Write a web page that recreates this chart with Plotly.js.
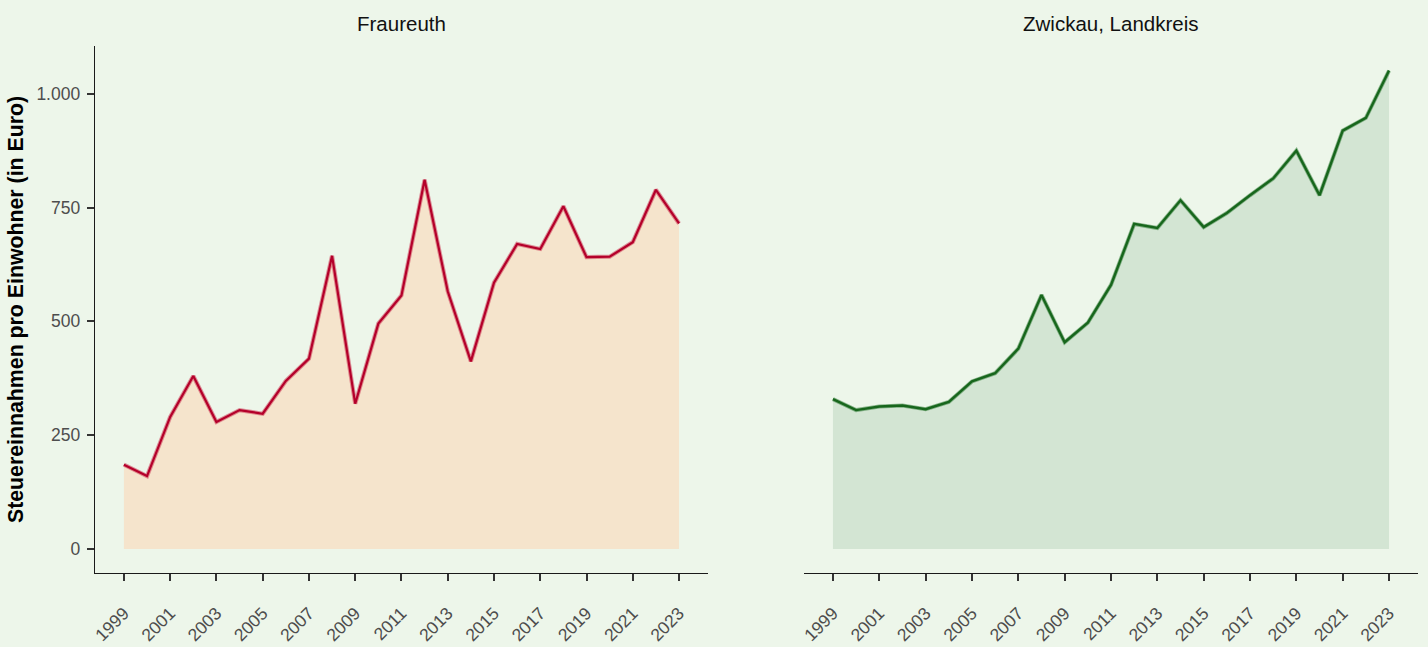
<!DOCTYPE html>
<html>
<head>
<meta charset="utf-8">
<script src="https://cdn.plot.ly/plotly-3.0.1.min.js"></script>
<style>html,body{margin:0;padding:0;background:#EDF6EA;}#chart{width:1428px;height:647px;}</style>
</head>
<body>
<div id="chart"></div>
<script>
const years = [1999,2000,2001,2002,2003,2004,2005,2006,2007,2008,2009,2010,2011,2012,2013,2014,2015,2016,2017,2018,2019,2020,2021,2022,2023];
const fraureuth = [185,160,290,380,279,305,297,369,418,644,319,495,557,811,566,412,585,670,659,753,641,642,674,789,715];
const zwickau = [329,305,313,315,307,323,368,386,440,558,454,497,580,714,705,766,707,738,777,814,875,777,919,947,1051];
const panelTitles = ["Fraureuth", "Zwickau, Landkreis"];
const yTitle = "Steuereinnahmen pro Einwohner (in Euro)";
const yTicks = [0,250,500,750,1000];

const traces = [
  {x: years, y: fraureuth, xaxis:'x', yaxis:'y', type:'scatter', mode:'lines', fill:'tozeroy',
   fillcolor:'#F5E4CC', line:{color:'rgba(205,60,85,0.55)', width:4.2}, hoverinfo:'skip', showlegend:false},
  {x: years, y: fraureuth, xaxis:'x', yaxis:'y', type:'scatter', mode:'lines',
   line:{color:'#B4002A', width:2.2}, showlegend:false},
  {x: years, y: zwickau, xaxis:'x2', yaxis:'y2', type:'scatter', mode:'lines', fill:'tozeroy',
   fillcolor:'#D3E5D3', line:{color:'rgba(40,120,45,0.5)', width:4}, hoverinfo:'skip', showlegend:false},
  {x: years, y: zwickau, xaxis:'x2', yaxis:'y2', type:'scatter', mode:'lines',
   line:{color:'#17661C', width:2.4}, showlegend:false}
];

const xcommon = {
  range:[1997.75, 2024.25], tick0:1999, dtick:2, tickmode:'linear',
  showline:true, linecolor:'#1a1a1a', linewidth:1.3, showgrid:false, zeroline:false,
  ticks:'outside', ticklen:7, tickwidth:2, tickcolor:'#333333',
  tickangle:-45, tickfont:{family:'Liberation Sans, Arial, sans-serif', size:17.5, color:'#4D4D4D'},
  ticklabelstandoff:15
};
const layout = {
  width:1428, height:647,
  paper_bgcolor:'#EDF6EA', plot_bgcolor:'#EDF6EA',
  margin:{l:95, r:10, t:46, b:74},
  separators:',.',
  font:{family:'Liberation Sans, Arial, sans-serif'},
  xaxis: Object.assign({domain:[0, 0.4633], anchor:'y'}, xcommon),
  xaxis2: Object.assign({domain:[0.5359, 1], anchor:'y2'}, xcommon),
  yaxis: {range:[-53,1105], tickmode:'array', tickvals:yTicks, tickformat:',d',
    showline:true, linecolor:'#1a1a1a', linewidth:1.3, showgrid:false, zeroline:false,
    ticks:'outside', ticklen:7, tickwidth:2, tickcolor:'#333333', ticklabelstandoff:3,
    tickfont:{family:'Liberation Sans, Arial, sans-serif', size:17.5, color:'#4D4D4D'},
    title:{text:'<b>'+yTitle+'</b>', font:{size:21.3, color:'#000000'}, standoff:7}, anchor:'x'},
  yaxis2: {range:[-53,1105], anchor:'x2', showline:false, showgrid:false, zeroline:false,
    showticklabels:false, ticks:''},
  annotations: [
    {text:panelTitles[0], xref:'paper', yref:'paper', x:0.23165, y:1, xanchor:'center', yanchor:'bottom',
     yshift:9, showarrow:false, font:{size:20.5, color:'#111111'}},
    {text:panelTitles[1], xref:'paper', yref:'paper', x:0.76795, y:1, xanchor:'center', yanchor:'bottom',
     yshift:9, showarrow:false, font:{size:20.5, color:'#111111'}}
  ]
};
Plotly.newPlot('chart', traces, layout, {displayModeBar:false, staticPlot:true});
</script>
</body>
</html>
